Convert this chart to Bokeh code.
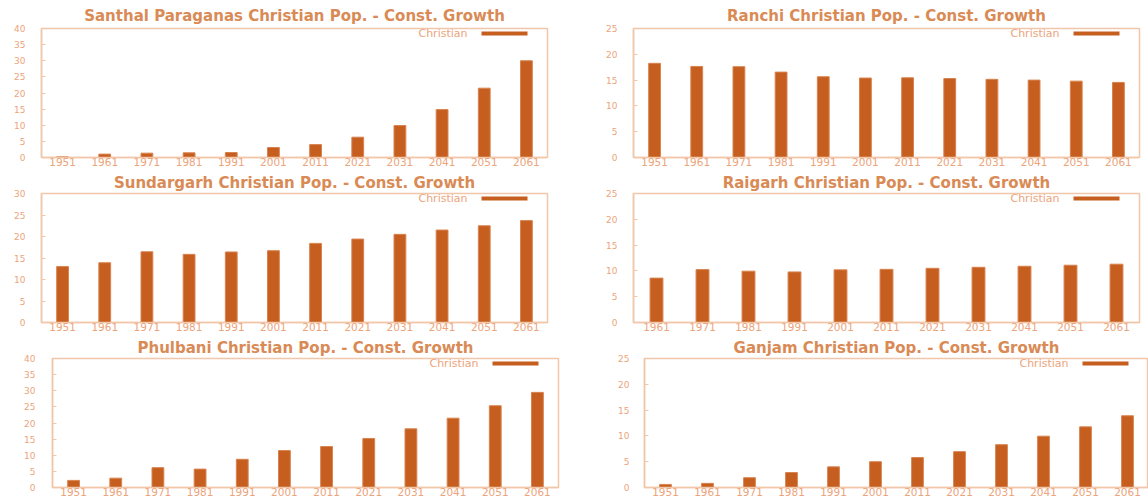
from bokeh.plotting import figure
from bokeh.models import FactorRange, Range1d, Label, BoxAnnotation, FixedTicker
from bokeh.layouts import column, row
from bokeh.embed import file_html
from bokeh.resources import INLINE

years = ["1951", "1961", "1971", "1981", "1991", "2001", "2011", "2021", "2031", "2041", "2051", "2061"]
years_raigarh = ["1961", "1971", "1981", "1991", "2001", "2011", "2021", "2031", "2041", "2051", "2061"]

santhal = [0.2, 1.05, 1.35, 1.45, 1.55, 3.1, 4.0, 6.3, 9.9, 14.85, 21.5, 30.0]
ranchi = [18.25, 17.65, 17.6, 16.55, 15.65, 15.4, 15.45, 15.3, 15.15, 15.0, 14.8, 14.55]
sundargarh = [13.0, 13.9, 16.45, 15.85, 16.4, 16.7, 18.4, 19.4, 20.5, 21.5, 22.5, 23.7]
raigarh = [8.6, 10.25, 9.95, 9.8, 10.2, 10.3, 10.5, 10.7, 10.9, 11.1, 11.3]
phulbani = [2.2, 2.9, 6.15, 5.7, 8.75, 11.45, 12.7, 15.2, 18.2, 21.5, 25.35, 29.5]
ganjam = [0.6, 0.8, 1.9, 2.9, 4.0, 5.0, 5.8, 6.95, 8.3, 9.95, 11.75, 13.9]

titles = [
    "Santhal Paraganas Christian Pop. - Const. Growth",
    "Ranchi Christian Pop. - Const. Growth",
    "Sundargarh Christian Pop. - Const. Growth",
    "Raigarh Christian Pop. - Const. Growth",
    "Phulbani Christian Pop. - Const. Growth",
    "Ganjam Christian Pop. - Const. Growth",
]
series_name = "Christian"
y_max = [40, 25, 30, 25, 40, 25]
y_step = 5

BAR = "#c55e1e"
BAR_EDGE = "#d8834f"
BOX = "#f1c7aa"
TICK_TXT = "#eca47b"
TITLE_TXT = "#d98a55"
FONT = "DejaVu Sans"
FRAME_H = 129


def make_panel(title, cats, vals, ymax, width, height, left, right, top, bottom,
               ylab_standoff, title_standoff):
    p = figure(
        x_range=FactorRange(factors=cats),
        y_range=Range1d(0, ymax),
        width=width, height=height,
        min_border_left=left, min_border_right=right,
        min_border_top=top, min_border_bottom=bottom,
        output_backend="svg", toolbar_location=None,
        title=title,
    )
    p.background_fill_color = "white"
    p.border_fill_color = "white"
    p.outline_line_color = BOX
    p.outline_line_width = 1.5
    p.xgrid.visible = False
    p.ygrid.visible = False

    p.title.align = "center"
    p.title.text_font = FONT
    p.title.text_font_size = "15px"
    p.title.text_font_style = "bold"
    p.title.text_color = TITLE_TXT
    p.title.standoff = title_standoff

    ticks = list(range(0, ymax + 1, y_step))
    ya = p.yaxis[0]
    ya.ticker = FixedTicker(ticks=ticks)
    ya.axis_line_color = BOX
    ya.axis_line_width = 1.5
    ya.major_tick_line_color = BOX
    ya.major_tick_in = 4
    ya.major_tick_out = 0
    ya.minor_tick_line_color = None
    ya.major_label_text_font = FONT
    ya.major_label_text_font_size = "9px"
    ya.major_label_text_color = TICK_TXT
    ya.major_label_standoff = ylab_standoff

    xa = p.xaxis[0]
    xa.axis_line_color = BOX
    xa.axis_line_width = 1.5
    xa.major_tick_line_color = None
    xa.major_tick_in = 0
    xa.major_tick_out = 0
    xa.major_label_text_font = FONT
    xa.major_label_text_font_size = "10.5px"
    xa.major_label_text_color = TICK_TXT
    xa.major_label_standoff = 0

    p.vbar(x=cats, top=vals, width=0.28, fill_color=BAR, line_color=BAR_EDGE, line_width=1)

    fw = width - left - right
    per_px = ymax / FRAME_H
    p.add_layout(Label(x=fw - 80, y=ymax - 5 * per_px, x_units="screen", y_units="data",
                       text=series_name, text_align="right", text_baseline="middle",
                       text_font=FONT, text_font_size="11px", text_color=TICK_TXT))
    p.add_layout(BoxAnnotation(left=fw - 66, right=fw - 20,
                               top=ymax - 3 * per_px, bottom=ymax - 7 * per_px,
                               left_units="screen", right_units="screen",
                               top_units="data", bottom_units="data",
                               fill_color=BAR, fill_alpha=1.0, line_color=None))
    return p


p1 = make_panel(titles[0], years, santhal, y_max[0], 574, 169, 41, 27, 28, 12, 16, 7)
p2 = make_panel(titles[1], years, ranchi, y_max[1], 574, 169, 59, 9, 28, 12, 16, 7)
p3 = make_panel(titles[2], years, sundargarh, y_max[2], 574, 165, 41, 27, 24, 12, 16, 3)
p4 = make_panel(titles[3], years_raigarh, raigarh, y_max[3], 574, 165, 59, 9, 24, 12, 16, 3)
p5 = make_panel(titles[4], years, phulbani, y_max[4], 574, 164, 52, 16, 24, 11, 17, 3)
p6 = make_panel(titles[5], years, ganjam, y_max[5], 574, 164, 70, 0, 24, 11, 15, 3)

layout = column(row(p1, p2), row(p3, p4), row(p5, p6))

with open("out.html", "w") as f:
    f.write(file_html(layout, INLINE))
